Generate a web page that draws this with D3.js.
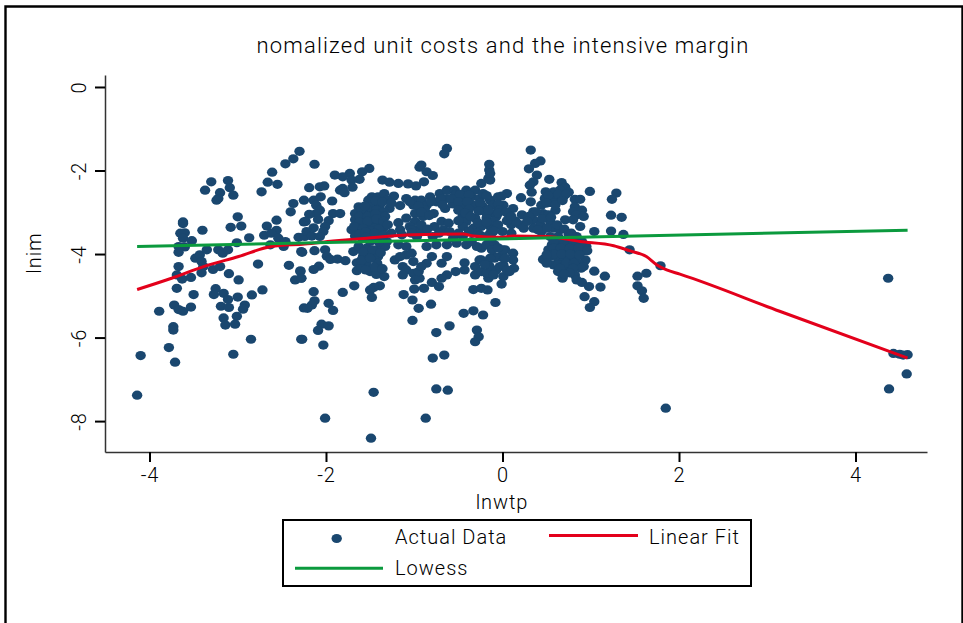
<!DOCTYPE html>
<html>
<head>
<meta charset="utf-8">
<title>nomalized unit costs and the intensive margin</title>
<script src="https://cdn.jsdelivr.net/npm/d3@7"></script>
<style>
  body { margin: 0; background: #fff; }
  text { font-family: Roboto, "Noto Sans", sans-serif; fill: #000; }
</style>
</head>
<body>
<div id="chart"></div>
<script>
// values, [lnwtp, lnim]
const actualData = [
  [-4.14,-7.38],[-4.10,-6.43],[-3.89,-5.37],[-3.78,-6.24],[-3.71,-6.59],[-3.73,-5.74],[-3.73,-5.82],[-3.72,-5.22],[-3.67,-5.33],[-3.62,-5.37],
  [-3.53,-5.27],[-3.69,-4.82],[-3.50,-4.97],[-3.67,-4.30],[-3.69,-4.50],[-3.63,-4.60],[-3.53,-4.56],[-3.62,-3.23],[-3.62,-3.27],[-3.65,-3.50],
  [-3.60,-3.49],[-3.62,-3.62],[-3.52,-3.68],[-3.67,-3.82],[-3.60,-3.83],[-3.67,-3.96],[-3.40,-3.43],[-3.37,-2.47],[-3.30,-2.27],[-3.20,-2.53],
  [-3.22,-2.67],[-3.24,-2.71],[-3.11,-2.24],[-3.09,-2.41],[-3.05,-2.59],[-3.00,-3.11],[-3.08,-3.36],[-2.96,-3.33],[-3.01,-3.73],[-2.87,-3.61],
  [-3.48,-4.10],[-3.43,-4.02],[-3.35,-3.90],[-3.41,-4.18],[-3.39,-4.30],[-3.41,-4.45],[-3.28,-4.37],[-3.20,-4.30],[-3.22,-3.90],[-3.17,-3.98],
  [-3.11,-3.90],[-2.77,-4.24],[-3.10,-4.47],[-2.99,-4.62],[-3.25,-4.83],[-3.27,-4.97],[-3.16,-4.94],[-3.11,-5.09],[-3.00,-5.03],[-2.84,-4.98],
  [-2.72,-4.86],[-3.19,-5.25],[-3.10,-5.28],[-2.92,-5.22],[-2.94,-5.32],[-3.01,-5.49],[-3.16,-5.53],[-3.14,-5.70],[-3.03,-5.68],[-2.85,-6.04],
  [-3.05,-6.40],[-2.28,-6.04],[-2.42,-4.27],[-2.29,-4.40],[-2.35,-4.62],[-2.28,-4.58],[-2.28,-3.94],[-2.73,-2.51],[-2.66,-2.28],[-2.55,-2.33],
  [-2.61,-2.04],[-2.46,-1.84],[-2.37,-1.72],[-2.30,-1.54],[-2.37,-2.79],[-2.40,-2.99],[-2.25,-2.71],[-2.56,-3.19],[-2.67,-3.33],[-2.56,-3.43],
  [-2.70,-3.55],[-2.62,-3.50],[-2.54,-3.62],[-2.46,-3.70],[-2.63,-3.78],[-2.48,-3.82],[-2.31,-3.60],[-2.24,-3.58],[-2.25,-3.23],[-2.25,-5.29],
  [-2.13,-1.85],[-0.63,-1.47],[-0.66,-1.60],[-0.92,-1.87],[-0.94,-1.92],[-1.51,-1.95],[-1.59,-2.03],[-1.73,-2.07],[-1.81,-2.15],[-1.90,-2.11],
  [-1.62,-2.21],[-1.71,-2.23],[-0.86,-2.03],[-0.79,-2.12],[-1.36,-2.23],[-1.28,-2.28],[-1.18,-2.31],[-1.07,-2.32],[-0.98,-2.37],[-0.89,-2.27],
  [-2.19,-2.41],[-2.07,-2.39],[-2.02,-2.37],[-1.81,-2.43],[-1.70,-2.40],[-1.84,-2.47],[-1.79,-2.53],[-2.14,-2.71],[-2.06,-2.63],[-1.93,-2.73],
  [-2.11,-2.83],[-2.07,-2.95],[-2.11,-3.03],[-2.19,-3.05],[-1.92,-3.03],[-1.84,-3.03],[-2.23,-3.22],[-1.97,-3.20],[-2.09,-3.17],[-2.01,-3.34],
  [-2.14,-3.37],[-2.22,-3.46],[-2.03,-3.46],[-2.16,-3.57],[-2.07,-3.58],[-2.27,-3.96],[-2.13,-3.92],[-2.01,-3.90],[-1.99,-4.05],[-1.95,-4.13],
  [-1.87,-4.12],[-1.78,-4.16],[-2.08,-4.29],[-2.14,-4.37],[-2.29,-4.42],[-2.28,-4.58],[-2.14,-4.90],[-1.81,-4.92],[-1.68,-4.76],[-2.13,-5.12],
  [-2.16,-5.22],[-2.21,-5.30],[-1.97,-5.18],[-1.92,-5.35],[-2.05,-5.68],[-1.97,-5.72],[-2.09,-5.83],[-2.27,-6.04],[-2.03,-6.18],
  [-1.48,-2.63],[-1.41,-2.63],[-1.34,-2.55],[-1.23,-2.61],[-1.52,-2.71],[-1.31,-2.71],[-1.63,-2.87],[-1.48,-2.83],[-1.39,-2.83],[-1.28,-2.91],
  [-1.16,-2.84],[-1.52,-2.95],[-1.43,-2.95],[-1.35,-2.99],[-1.67,-3.03],[-1.58,-3.03],[-1.48,-3.09],[-1.39,-3.09],[-1.67,-3.18],[-1.58,-3.18],
  [-1.48,-3.22],[-1.39,-3.26],[-1.63,-3.30],[-1.54,-3.34],[-1.45,-3.38],[-1.35,-3.38],[-1.71,-3.42],[-1.62,-3.46],[-1.50,-3.52],[-1.39,-3.50],
  [-1.60,-3.60],[-1.43,-3.62],[-1.67,-3.57],[-1.31,-3.70],[-1.18,-3.25],[-1.16,-3.42],[-1.14,-3.54],[-1.69,-3.94],[-1.63,-3.82],[-1.54,-3.86],
  [-1.48,-3.98],[-1.39,-3.86],[-1.33,-3.82],[-1.41,-4.06],[-1.58,-4.06],[-1.65,-4.21],[-1.54,-4.22],[-1.42,-4.22],[-1.65,-4.40],[-1.60,-4.32],
  [-1.50,-4.42],[-1.43,-4.49],[-1.34,-4.54],[-1.39,-4.76],[-1.46,-4.80],[-1.50,-4.86],[-1.48,-5.04],[-1.22,-4.14],[-1.09,-4.02],[-1.18,-3.78],
  [-1.09,-3.82],[-1.03,-3.98],[-1.16,-4.06],[-1.01,-4.18],[-1.13,-4.30],[-1.09,-4.38],[-1.13,-4.50],[-1.01,-4.46],[-0.99,-4.62],[-0.94,-4.58],
  [-0.95,-4.42],[-1.00,-4.84],[-0.89,-4.82],[-0.80,-4.68],[-0.72,-4.78],[-1.12,-4.97],[-1.02,-5.10],[-0.95,-5.30],[-0.81,-5.20],[-1.02,-5.59],
  [-0.86,-3.82],[-0.75,-3.78],[-0.63,-3.78],[-0.80,-4.06],[-0.86,-4.22],[-0.92,-4.30],[-0.63,-4.06],[-0.69,-4.22],[-0.63,-4.50],[-0.69,-4.58],
  [-0.53,-4.42],[-0.43,-4.21],[-0.43,-4.38],[-0.31,-4.30],[-0.26,-4.14],[-0.31,-4.50],[-0.24,-4.42],[-0.16,-4.58],[-0.12,-4.42],[-0.09,-4.10],
  [-0.03,-4.06],[-0.07,-4.38],[-0.03,-4.30],[-0.33,-4.85],[-0.24,-4.82],[-0.17,-4.86],[-0.08,-5.16],[-0.33,-5.36],[-0.44,-5.42],[-0.22,-5.46],
  [-0.60,-5.72],[-0.75,-5.88],[-0.29,-5.82],[-0.27,-5.98],[-0.31,-6.10],
  [-1.09,-2.67],[-0.99,-2.71],[-0.92,-2.71],[-0.82,-2.63],[-0.71,-2.55],[-0.63,-2.47],[-0.54,-2.47],[-0.41,-2.47],[-0.31,-2.47],[-0.24,-2.31],
  [-0.16,-2.19],[-0.15,-1.99],[-0.15,-1.85],[-1.01,-2.83],[-0.86,-2.83],[-0.75,-2.75],[-0.63,-2.67],[-0.54,-2.59],[-0.45,-2.67],[-0.35,-2.63],
  [-0.26,-2.67],[-0.14,-2.71],[-0.05,-2.63],[-0.99,-3.03],[-0.88,-2.95],[-0.78,-3.03],[-0.65,-2.91],[-0.56,-2.80],[-0.45,-2.87],[-0.33,-2.83],
  [-0.22,-2.87],[-0.11,-2.83],[-1.09,-3.14],[-0.99,-3.22],[-0.90,-3.10],[-0.45,-3.07],[-0.41,-3.22],[-0.31,-3.14],[-0.18,-3.03],[-0.09,-3.03],
  [-0.14,-3.34],[-1.05,-3.34],[-0.97,-3.42],[-0.90,-3.46],[-0.77,-3.34],[-0.69,-3.22],[-0.61,-3.26],[-0.67,-3.42],[-0.60,-3.46],[-0.45,-3.34],
  [-0.33,-3.38],[-0.24,-3.34],[-0.18,-3.58],[-0.29,-3.50],[-0.97,-3.58],[-0.79,-3.58],[-0.56,-3.62],[-0.45,-3.58],[-0.52,-3.74],[-0.41,-3.78],
  [-0.24,-3.86],[-0.29,-3.82],
  [0.32,-1.51],[0.43,-1.77],[0.37,-1.83],[0.30,-1.96],[0.39,-2.11],[0.35,-2.27],[0.31,-2.35],[0.33,-2.52],[0.53,-2.21],[0.67,-2.29],
  [-0.14,-2.23],[0.71,-2.40],[0.75,-2.52],[0.65,-2.47],[0.58,-2.51],[0.49,-2.51],[0.99,-2.50],[1.29,-2.54],[1.24,-2.69],[0.69,-2.63],
  [0.60,-2.67],[0.48,-2.67],[0.44,-2.83],[0.56,-2.77],[0.21,-2.65],[0.32,-2.75],[0.05,-2.55],[-0.01,-2.61],[0.82,-2.69],[0.88,-2.69],
  [0.60,-2.95],[0.82,-2.87],[0.80,-2.99],[0.90,-2.95],[0.84,-3.06],[0.92,-3.10],[0.71,-3.18],[0.80,-3.18],[0.88,-3.34],[1.23,-3.07],
  [1.35,-3.12],[1.04,-3.46],[1.23,-3.45],[1.37,-3.53],[0.22,-3.06],[0.35,-2.99],[0.46,-3.03],[0.52,-3.06],[0.01,-2.83],[0.12,-2.91],
  [0.08,-3.10],[-0.07,-3.10],[-0.18,-3.14],[-0.10,-3.22],[0.20,-3.30],[0.24,-3.38],[0.35,-3.18],[0.43,-3.30],[0.54,-3.22],[0.10,-3.30],
  [0.58,-3.38],[0.65,-3.42],[0.44,-3.46],[0.35,-3.38],[0.00,-3.46],[0.10,-3.50],[-0.14,-3.50],[0.75,-3.54],[0.84,-3.58],[0.63,-3.58],
  [0.54,-3.58],[0.56,-3.78],[0.65,-3.78],[0.75,-3.78],[0.84,-3.78],[0.95,-3.82],[0.52,-3.90],[0.61,-3.94],[0.71,-3.90],[0.80,-3.94],
  [0.90,-3.94],[0.46,-4.13],[0.54,-4.06],[0.63,-4.10],[0.73,-4.10],[0.82,-4.10],[0.94,-4.14],[0.58,-4.26],[0.67,-4.22],[0.76,-4.26],
  [0.86,-4.22],[0.92,-4.30],[0.63,-4.42],[0.71,-4.38],[0.68,-4.58],[0.82,-4.50],[0.84,-4.62],[0.90,-4.68],[0.98,-4.78],[1.04,-4.41],
  [1.16,-4.53],[1.11,-4.79],[0.93,-5.02],[1.04,-5.14],[0.99,-5.28],[1.53,-4.53],[1.63,-4.46],[1.53,-4.76],[1.58,-4.88],[1.60,-5.06],
  [1.44,-3.90],[1.79,-4.28],[0.03,-3.90],[0.12,-3.98],[0.12,-4.14],[-0.09,-4.06],[-0.14,-4.10],[-0.24,-4.14],[0.01,-4.26],[0.13,-4.34],
  [0.08,-4.42],[0.01,-4.54],[-0.01,-4.72],[-0.18,-4.46],[0.00,-3.90],[-0.18,-3.78],[-0.09,-3.78],[-0.22,-2.55],[-0.14,-2.07],
  [1.85,-7.69],[-2.01,-7.93],[-1.49,-8.41],[-1.46,-7.31],[-0.87,-7.93],[-0.75,-7.23],[-0.62,-7.26],[-0.79,-6.49],[-0.66,-6.42],
  [4.37,-4.58],[4.38,-7.23],[4.58,-6.87],[4.43,-6.38],[4.50,-6.40],[4.59,-6.41],[4.54,-6.42],
  // overlapping points inside the dense clumps
  [-1.60,-2.92],[-1.56,-2.85],[-1.44,-2.72],[-1.36,-2.75],[-1.26,-2.78],[-1.62,-3.10],[-1.53,-3.10],[-1.44,-3.04],[-1.33,-3.10],[-1.62,-3.24],
  [-1.53,-3.22],[-1.43,-3.16],[-1.35,-3.22],[-1.68,-3.34],[-1.58,-3.39],[-1.49,-3.44],[-1.40,-3.40],[-1.30,-3.30],[-1.62,-3.53],[-1.55,-3.47],
  [-1.45,-3.50],[-1.35,-3.55],[-1.26,-3.50],[-1.55,-3.60],[-1.50,-3.70],[-1.40,-3.72],[-1.58,-3.95],[-1.47,-3.90],[-1.38,-3.97],[-1.60,-4.15],
  [-1.50,-4.10],[-1.45,-4.32],[-1.55,-4.38],[-1.36,-4.35],[-1.05,-2.75],[-0.95,-2.86],[-0.92,-3.00],[-0.83,-3.08],[-0.81,-2.75],[-0.70,-2.68],
  [-0.68,-2.82],[-0.58,-2.67],[-0.48,-2.57],[-0.50,-2.75],[-0.38,-2.58],[-0.40,-2.75],[-0.38,-2.93],[-0.50,-2.95],[-0.42,-3.02],[-0.36,-3.10],
  [-0.25,-2.78],[-0.18,-2.60],[-0.27,-2.97],[-0.16,-2.95],[-0.05,-2.80],[-0.04,-2.95],[-0.28,-3.25],[-0.18,-3.24],[-0.05,-3.30],[-0.50,-3.20],
  [-1.03,-3.42],[-1.03,-3.50],[-0.92,-3.30],[-0.85,-3.40],[-0.72,-3.50],[-0.50,-3.50],[-0.38,-3.45],[-0.25,-3.55],[-0.10,-3.45],[-0.12,-3.62],
  [-0.35,-3.70],[0.58,-3.68],[0.70,-3.68],[0.80,-3.68],[0.90,-3.70],[0.58,-3.86],[0.66,-3.86],[0.76,-3.86],[0.86,-3.86],[0.96,-3.92],
  [0.58,-4.00],[0.67,-4.00],[0.77,-4.00],[0.87,-4.02],[0.50,-4.02],[0.50,-4.22],[0.63,-4.25],[0.72,-4.22],[0.81,-4.22],[0.89,-4.34],
  [0.80,-4.34],[0.65,-4.34],[0.76,-4.45],[0.70,-4.48],[0.52,-2.60],[0.63,-2.56],[0.72,-2.56],[0.50,-2.78],[0.60,-2.82],[0.68,-2.72],
  [0.38,-2.99],[0.30,-3.10],[0.45,-3.15],[0.55,-3.12],[0.62,-3.30],[0.50,-3.38],[0.28,-3.22],[0.40,-3.42],[0.15,-3.22],[0.05,-3.20],
  [-0.05,-3.02],[0.04,-3.00],[0.10,-3.10],[0.70,-3.40],[0.78,-3.50],[-0.12,-3.90],[-0.05,-3.85],[-0.15,-4.28],[-0.20,-4.25],[0.05,-4.38],
  [-0.10,-4.50],[0.03,-4.10]
];

const linearFitX = [-4.14,-3.75,-3.37,-2.99,-2.62,-2.24,-1.92,-1.54,-1.01,-0.45,-0.33,-0.03,0.12,0.50,0.88,1.26,1.44,1.63,1.75,1.86,2.01,3.14,4.59];
const linearFitY = [-4.85,-4.58,-4.29,-4.06,-3.82,-3.76,-3.69,-3.62,-3.54,-3.52,-3.57,-3.60,-3.57,-3.58,-3.70,-3.80,-3.92,-4.06,-4.26,-4.38,-4.48,-5.37,-6.49];
const lowessX = [-4.14,4.59];
const lowessY = [-3.82,-3.43];

const xTicks = [-4,-2,0,2,4];
const yTicks = [0,-2,-4,-6,-8];
const legendLabels = ["Actual Data","Linear Fit","Lowess"];

const navy = "#1a476f", red = "#e3001b", green = "#0b9a3e";
const width = 963, height = 623;

const svg = d3.select("#chart").append("svg")
  .attr("width", width).attr("height", height)
  .style("display", "block");

// outer frame, runs off the bottom of the picture
svg.append("path")
  .attr("d", `M5.5,${height} V6.5 H962.5 V${height}`)
  .attr("fill", "none").attr("stroke", "#000").attr("stroke-width", 2.4);

const x = d3.scaleLinear().domain([-4.504, 4.81]).range([105, 927]);
const y = d3.scaleLinear().domain([0.287, -8.74]).range([75, 452]);

// points
svg.append("g").selectAll("ellipse")
  .data(actualData)
  .join("ellipse")
  .attr("cx", d => x(d[0]))
  .attr("cy", d => y(d[1]))
  .attr("rx", 5.2)
  .attr("ry", 4.6)
  .attr("fill", navy);

// fit lines
const line = d3.line().x(d => x(d[0])).y(d => y(d[1])).curve(d3.curveMonotoneX);
svg.append("path")
  .attr("d", line(linearFitX.map((v, i) => [v, linearFitY[i]])))
  .attr("fill", "none").attr("stroke", red).attr("stroke-width", 3);
svg.append("path")
  .attr("d", line(lowessX.map((v, i) => [v, lowessY[i]])))
  .attr("fill", "none").attr("stroke", green).attr("stroke-width", 3);

// axes
const xAxis = svg.append("g")
  .attr("transform", "translate(0,452)")
  .call(d3.axisBottom(x).tickValues(xTicks).tickFormat(String).tickSize(10).tickSizeOuter(0).tickPadding(6));
const yAxis = svg.append("g")
  .attr("transform", "translate(105,0)")
  .call(d3.axisLeft(y).tickValues(yTicks).tickFormat(String).tickSize(10).tickSizeOuter(0).tickPadding(8));

[xAxis, yAxis].forEach(a => {
  a.select(".domain").attr("stroke", "#333").attr("stroke-width", 1.5);
  a.selectAll(".tick line").attr("stroke", "#000").attr("stroke-width", 2);
  a.selectAll("text").attr("font-family", "Roboto").attr("font-size", 20).attr("font-weight", 300)
    .attr("letter-spacing", "0.8px");
});
yAxis.selectAll(".tick text")
  .attr("text-anchor", "middle")
  .attr("dy", 0)
  .attr("x", 0)
  .attr("y", 0)
  .attr("transform", "translate(-18,0) rotate(-90) translate(0,-1)");

// title and axis labels
const label = (s, px, py, size, spacing) => svg.append("text")
  .attr("x", px).attr("y", py)
  .attr("font-size", size).attr("font-weight", 300)
  .attr("letter-spacing", spacing + "px")
  .text(s);

label("nomalized unit costs and the intensive margin", 503, 53, 22, 1.15).attr("text-anchor", "middle");
label("lnwtp", 502, 509, 20, 0.9).attr("text-anchor", "middle");
label("lnim", 0, 0, 20, 0.9).attr("text-anchor", "middle")
  .attr("transform", "translate(41,253) rotate(-90)");

// legend
const legend = svg.append("g");
legend.append("rect")
  .attr("x", 283).attr("y", 520).attr("width", 468).attr("height", 66)
  .attr("fill", "#fff").attr("stroke", "#000").attr("stroke-width", 2);
legend.append("ellipse")
  .attr("cx", 336.7).attr("cy", 538.5).attr("rx", 5.2).attr("ry", 4.6).attr("fill", navy);
legend.append("line")
  .attr("x1", 549).attr("x2", 638).attr("y1", 535.5).attr("y2", 535.5)
  .attr("stroke", red).attr("stroke-width", 3);
legend.append("line")
  .attr("x1", 295).attr("x2", 383).attr("y1", 568.3).attr("y2", 568.3)
  .attr("stroke", green).attr("stroke-width", 3);
label(legendLabels[0], 395, 544, 20, 1);
label(legendLabels[1], 649, 544, 20, 1);
label(legendLabels[2], 395, 575, 20, 1);
</script>
</body>
</html>
